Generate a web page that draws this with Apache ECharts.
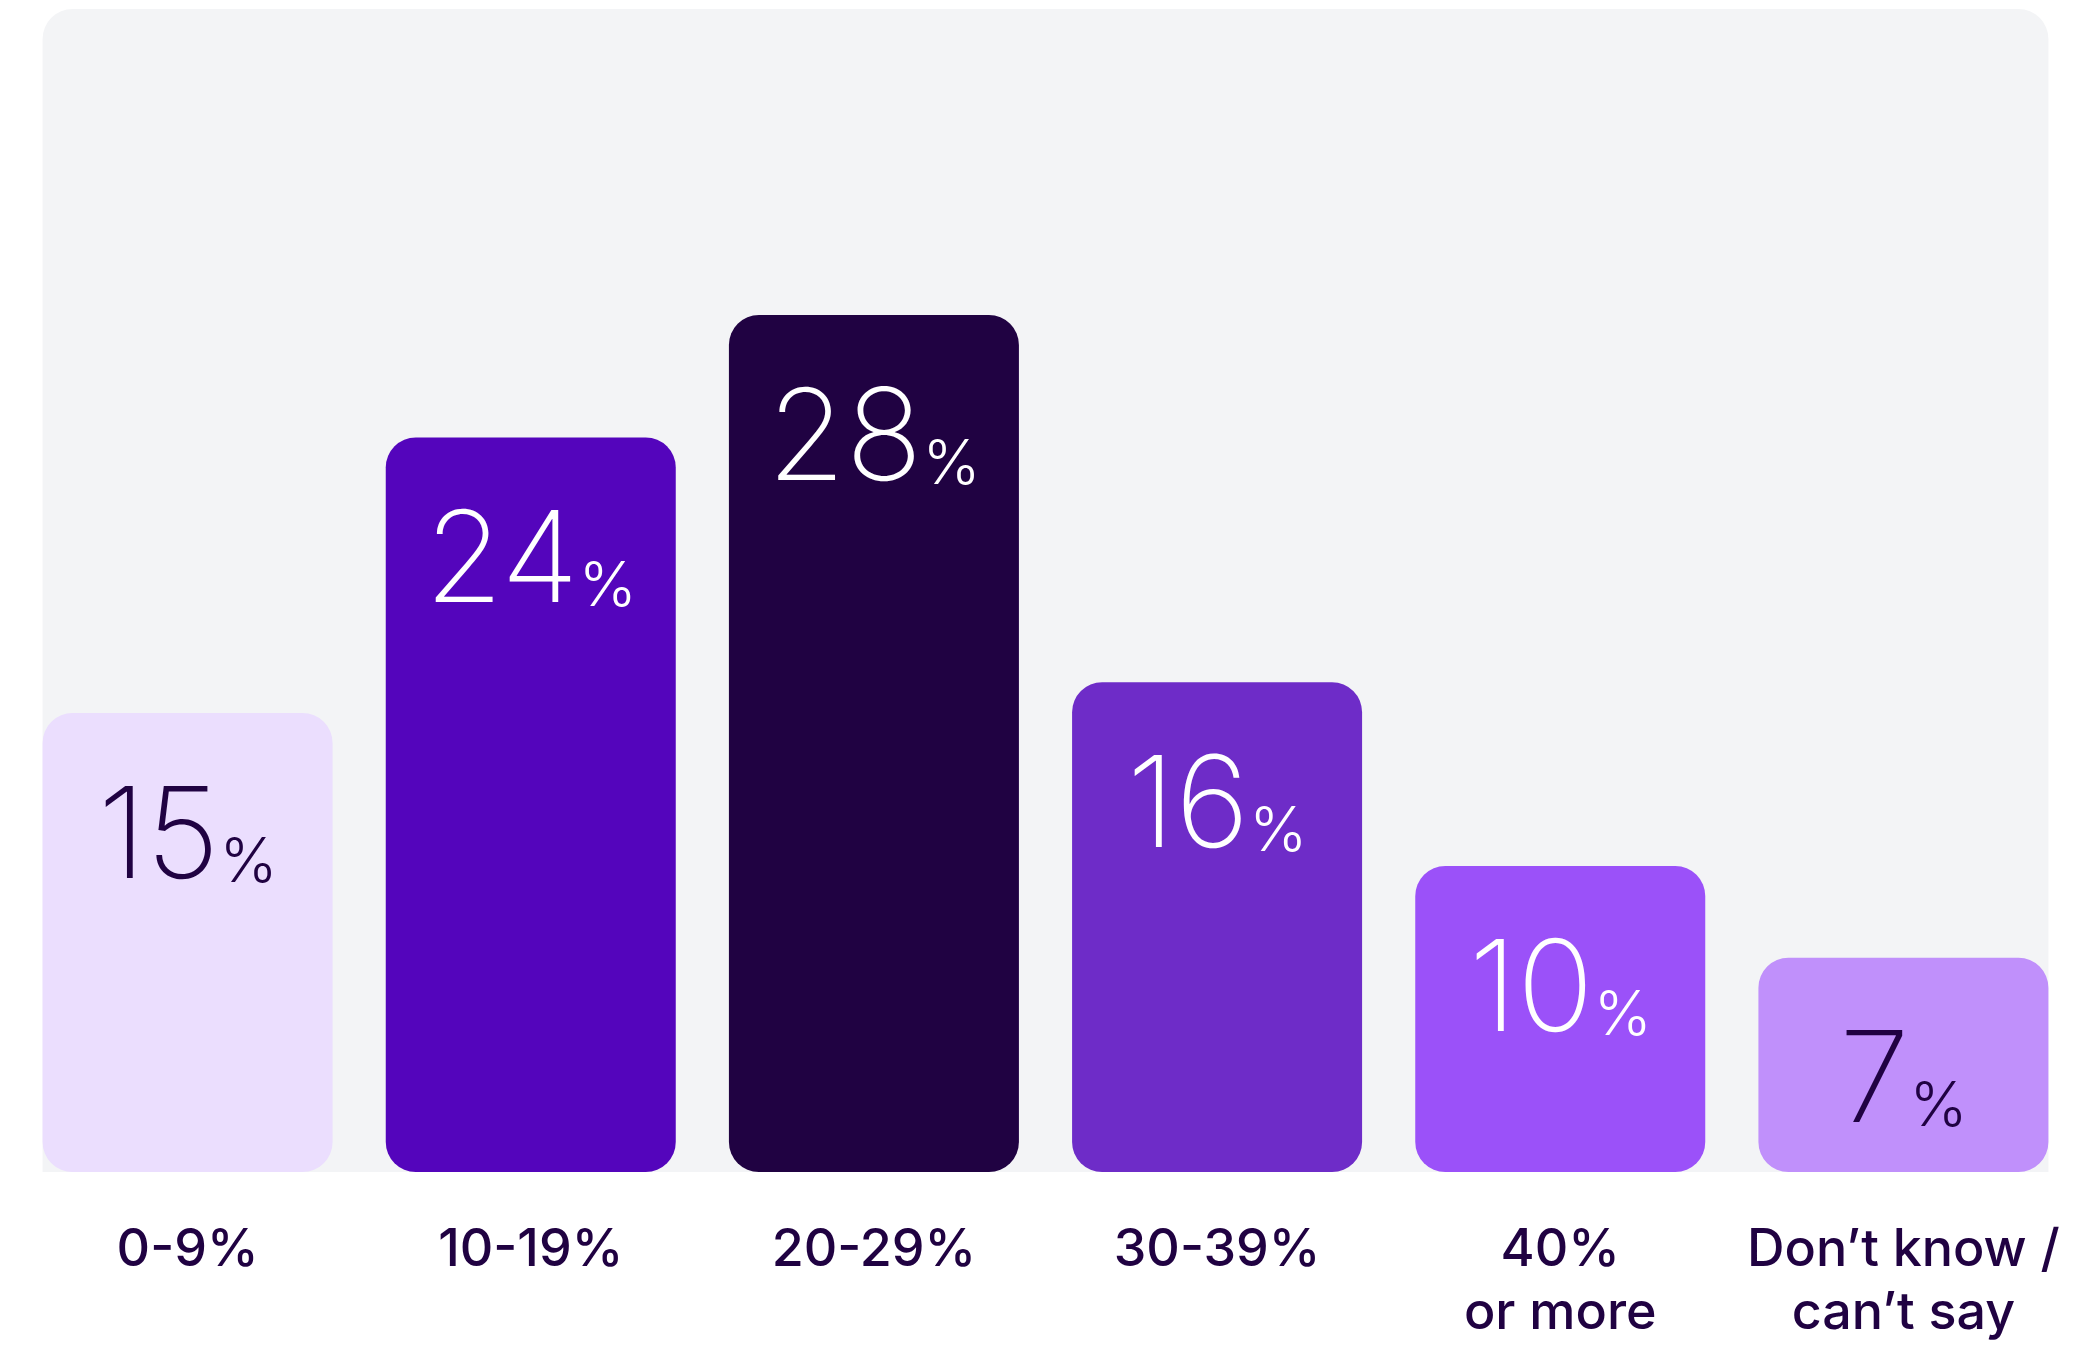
<!DOCTYPE html>
<html>
<head>
<meta charset="utf-8">
<script src="https://cdn.jsdelivr.net/npm/echarts@6/dist/echarts.min.js"></script>
<style>
  html, body { margin: 0; padding: 0; background: #ffffff; }
  #chart { width: 2095px; height: 1345px; }
</style>
</head>
<body>
<div id="chart"></div>
<script>
// Share of respondents by range
const categories = ['0-9%', '10-19%', '20-29%', '30-39%', '40%\nor more', 'Don\u2019t know /\ncan\u2019t say'];
const values = [15, 24, 28, 16, 10, 7];

// Palette
const barColors = ['#EBDEFE', '#5405BC', '#200242', '#6E2CC8', '#9B51F9', '#C090FB'];
const labelColors = ['#200242', '#ffffff', '#ffffff', '#ffffff', '#ffffff', '#200242'];
const textDark = '#200242';
const panelColor = '#F3F4F6';
const Y_MAX = 38;

const chart = echarts.init(document.getElementById('chart'), null, { renderer: 'canvas' });

const data = values.map((v, i) => ({
  value: v,
  itemStyle: { color: barColors[i] },
  label: {
    rich: {
      n: { color: labelColors[i] },
      p: { color: labelColors[i] }
    }
  }
}));

chart.setOption({
  animation: false,
  backgroundColor: '#ffffff',
  grid: { left: 16, right: 20, top: 9, bottom: 168, containLabel: false },
  xAxis: {
    type: 'category',
    data: categories,
    axisLine: { show: false },
    axisTick: { show: false },
    axisLabel: {
      interval: 0,
      margin: 47,
      color: textDark,
      fontFamily: 'Inter',
      fontWeight: 500,
      fontSize: 52,
      lineHeight: 63,
      align: 'center'
    }
  },
  yAxis: {
    type: 'value',
    min: 0,
    max: Y_MAX,
    show: false,
    splitLine: { show: false }
  },
  series: [{
    type: 'bar',
    data: data,
    barWidth: 290,
    z: 5,
    itemStyle: { borderRadius: 30 },
    label: {
      show: true,
      position: 'insideTop',
      distance: 50,
      formatter: p => '{n|' + p.value + '}{p|%}',
      rich: {
        n: {
          fontFamily: 'Inter',
          fontWeight: 200,
          fontSize: 127,
          lineHeight: 140,
          verticalAlign: 'bottom'
        },
        p: {
          fontFamily: 'Inter',
          fontWeight: 300,
          fontSize: 62,
          lineHeight: 140,
          verticalAlign: 'bottom',
          padding: [0, 0, 9, 0]
        }
      }
    }
  }]
});

// Rounded panel behind the bars, spanning from the first to the last bar
function drawPanel() {
  const barW = 290;
  const x0 = chart.convertToPixel({ xAxisIndex: 0 }, 0) - barW / 2;
  const x1 = chart.convertToPixel({ xAxisIndex: 0 }, categories.length - 1) + barW / 2;
  const yTop = chart.convertToPixel({ yAxisIndex: 0 }, Y_MAX);
  const yBot = chart.convertToPixel({ yAxisIndex: 0 }, 0);
  chart.setOption({
    graphic: [{
      type: 'rect',
      z: -10,
      silent: true,
      shape: { x: x0, y: yTop, width: x1 - x0, height: yBot - yTop, r: [30, 30, 0, 0] },
      style: { fill: panelColor }
    }]
  });
}
drawPanel();
</script>
</body>
</html>
